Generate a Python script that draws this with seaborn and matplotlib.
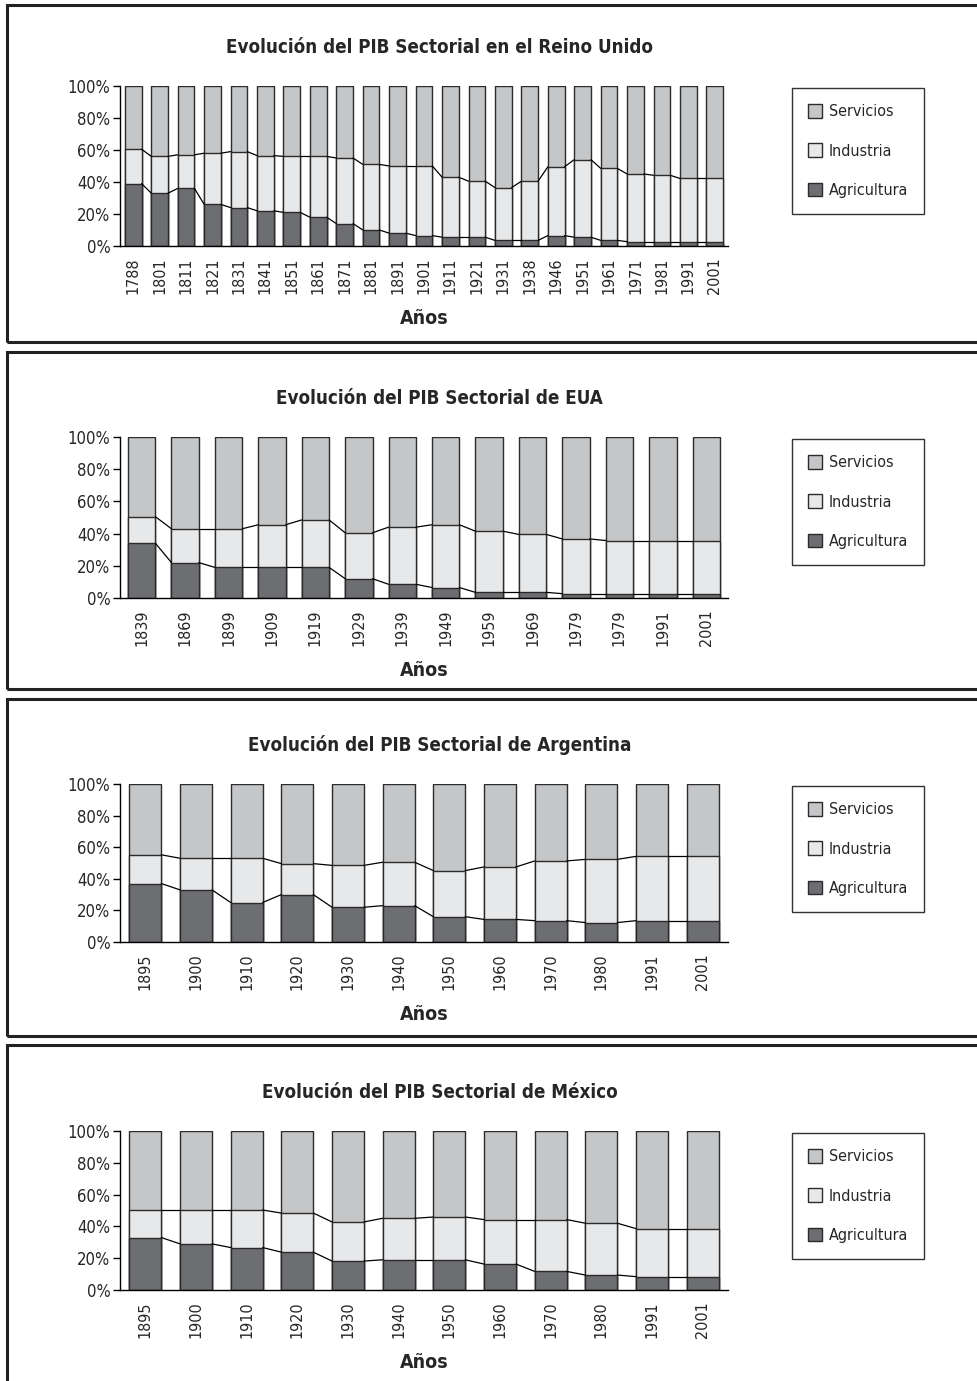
import numpy as np
import pandas as pd
import seaborn as sns
import matplotlib.pyplot as plt
from matplotlib.patches import Rectangle, Patch

sns.set_style('white')
plt.rcParams['font.family'] = ['DejaVu Sans']
plt.rcParams['font.stretch'] = 'condensed'

# --- datos (porcentaje del PIB) ---
uk_anios = ['1788', '1801', '1811', '1821', '1831', '1841', '1851', '1861', '1871', '1881', '1891', '1901',
            '1911', '1921', '1931', '1938', '1946', '1951', '1961', '1971', '1981', '1991', '2001']
uk_agri = [39, 33, 36, 26, 24, 22, 21, 18, 14, 10, 8, 6.5, 5.5, 5.5, 3.5, 3.5, 6.5, 5.5, 3.5, 2.7, 2.7, 2.7, 2.7]
uk_ind = [21.5, 23, 21, 32, 35, 34.5, 35, 38, 41, 41, 42, 43.5, 37.5, 35, 33, 37, 43, 48.5, 45, 42.3, 41.5, 39.5, 39.5]

eua_anios = ['1839', '1869', '1899', '1909', '1919', '1929', '1939', '1949', '1959', '1969', '1979', '1979', '1991', '2001']
eua_agri = [34, 22, 19, 19, 19, 12, 8.5, 6.5, 3.5, 3.5, 2.7, 2.7, 2.7, 2.7]
eua_ind = [16.5, 21, 24, 26.5, 29.5, 28.5, 35.5, 39, 38, 36, 34, 33, 33, 33]

arg_anios = ['1895', '1900', '1910', '1920', '1930', '1940', '1950', '1960', '1970', '1980', '1991', '2001']
arg_agri = [37, 33, 25, 30, 22, 23, 16, 14.3, 13.5, 12.3, 13.5, 13.5]
arg_ind = [18.2, 20, 28, 19.6, 26.5, 27.5, 29.2, 33.2, 37.8, 40, 40.7, 40.7]

mex_anios = ['1895', '1900', '1910', '1920', '1930', '1940', '1950', '1960', '1970', '1980', '1991', '2001']
mex_agri = [33, 29, 26.7, 23.8, 18.2, 19, 19, 16.3, 11.7, 9.4, 8.4, 8.4]
mex_ind = [17.3, 21.3, 23.6, 24.6, 24.6, 26.1, 26.9, 28, 32.6, 32.6, 30.2, 30.2]

titulos = ['Evolución del PIB Sectorial en el Reino Unido',
           'Evolución del PIB Sectorial de EUA',
           'Evolución del PIB Sectorial de Argentina',
           'Evolución del PIB Sectorial de México']

col_serv = '#c5c6c8'
col_ind = '#e7e8e9'
col_agri = '#6d6e71'
borde = '#2b2b2b'

fig = plt.figure(figsize=(9.78, 13.81), dpi=100)

paneles = [(uk_anios, uk_agri, uk_ind), (eua_anios, eua_agri, eua_ind),
           (arg_anios, arg_agri, arg_ind), (mex_anios, mex_agri, mex_ind)]

# posiciones en pixeles del original: (fondo del eje, alto) y caja de cada panel
ejes_y = [(246, 160), (598, 161), (942, 158), (1290, 159)]
cajas = [(5, 342), (352, 689), (699, 1036), (1045, 1395)]
W, H = 978, 1381
ancho = 0.63

for k, (anios, agri, ind) in enumerate(paneles):
    y0, h = ejes_y[k]
    ax = fig.add_axes([120 / W, 1 - y0 / H, 608 / W, h / H])
    n = len(anios)
    df = pd.DataFrame({'pos': np.arange(n), 'agri': agri, 'ind': ind})
    df['cum_ind'] = df['agri'] + df['ind']
    df['total'] = 100

    for col, color in [('total', col_serv), ('cum_ind', col_ind), ('agri', col_agri)]:
        sns.barplot(data=df, x='pos', y=col, color=color, saturation=1, width=ancho,
                    edgecolor=borde, linewidth=1, errorbar=None, ax=ax)

    # lineas de serie entre barras
    for col in ['agri', 'cum_ind']:
        v = df[col].values
        for i in range(n - 1):
            ax.plot([i + ancho / 2, i + 1 - ancho / 2], [v[i], v[i + 1]], color='black', lw=0.9)

    ax.set_xlim(-0.5, n - 0.5)
    ax.set_ylim(0, 100)
    ax.set_yticks(range(0, 101, 20))
    ax.set_yticklabels(['%d%%' % t for t in range(0, 101, 20)], fontsize=12)
    ax.set_xticks(range(n))
    ax.set_xticklabels(anios, rotation=90, fontsize=11.5)
    ax.set_xticks(np.arange(-0.5, n), minor=True)
    ax.tick_params(axis='x', which='major', length=0, pad=8)
    ax.tick_params(axis='x', which='minor', length=5, width=1, direction='out', color='black')
    ax.tick_params(axis='y', length=5, width=1, direction='out', color='black', left=True, pad=2)
    ax.set_ylabel('')
    ax.set_xlabel('Años', fontsize=14, fontweight='bold', labelpad=11)
    ax.set_title(titulos[k], fontsize=13.5, fontweight='bold', pad=24, x=0.526)
    for s in ['top', 'right']:
        ax.spines[s].set_visible(False)
    for s in ['left', 'bottom']:
        ax.spines[s].set_color('black')
        ax.spines[s].set_linewidth(1)

    manejadores = [Patch(facecolor=col_serv, edgecolor=borde, label='Servicios'),
                   Patch(facecolor=col_ind, edgecolor=borde, label='Industria'),
                   Patch(facecolor=col_agri, edgecolor=borde, label='Agricultura')]
    leg = fig.legend(handles=manejadores, loc='upper left',
                     bbox_to_anchor=(792 / W, 1 - (y0 - h + 2) / H), fontsize=11.5,
                     labelspacing=1.5, handlelength=0.9, handleheight=0.95, handletextpad=0.4,
                     borderpad=1.0, fancybox=False, frameon=True, borderaxespad=0)
    leg.get_frame().set_edgecolor('black')
    leg.get_frame().set_linewidth(1)

    top, bot = cajas[k]
    fig.add_artist(Rectangle((7 / W, 1 - bot / H), 1.0, (bot - top) / H, transform=fig.transFigure,
                             fill=False, edgecolor='#222222', linewidth=2.2))

fig.savefig('out.png', dpi=100)
